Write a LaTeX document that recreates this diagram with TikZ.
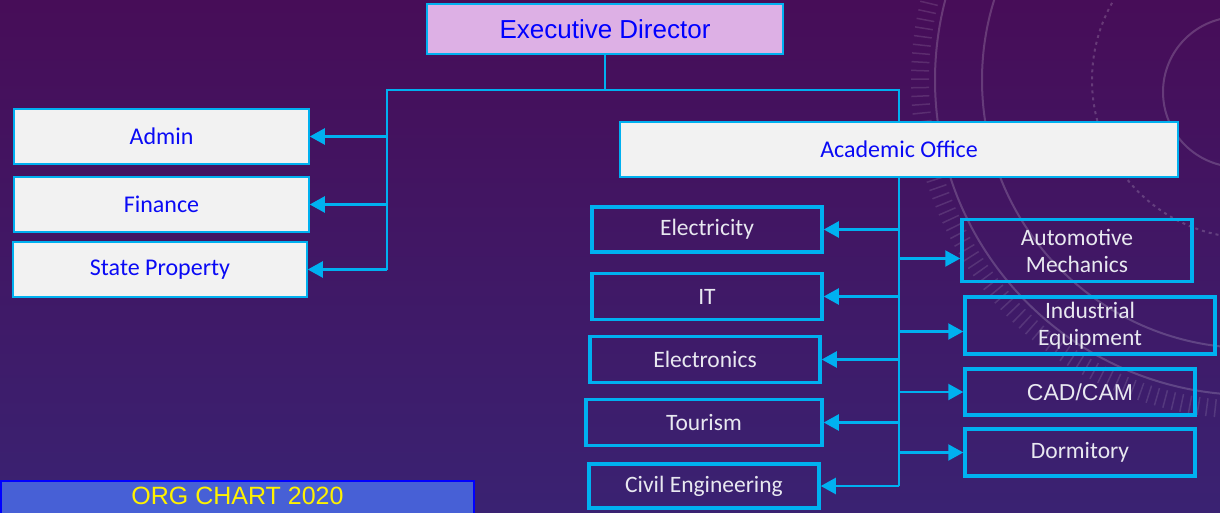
\documentclass[tikz,border=0pt]{standalone}
\usepackage{fontspec}
\setmainfont{Carlito}
\newfontfamily\arialfont{Liberation Sans}
\usetikzlibrary{arrows.meta}
\definecolor{lineCyan}{HTML}{00B0F0}
\definecolor{boxGray}{HTML}{F2F2F2}
\definecolor{textBlue}{HTML}{0A0AF5}
\definecolor{textWhite}{HTML}{E8E8F0}
\definecolor{lavender}{HTML}{DDB0E5}
\definecolor{orgBlue}{HTML}{4760D6}
\definecolor{bgTop}{HTML}{470D58}
\definecolor{bgBottom}{HTML}{3A2272}

\begin{document}
\begin{tikzpicture}[x=1pt, y=-1pt,
  every node/.style = {shape=rectangle, align=center, inner sep=0pt},
  >={Triangle[length=15pt,width=16pt]}]
    \tikzstyle{light}=[draw=lineCyan, line width=1.5pt, fill=boxGray,
      text=textBlue, font=\fontsize{24}{28}\selectfont]
    \tikzstyle{dark}=[draw=lineCyan, line width=3.5pt, text=textWhite,
      font=\fontsize{23.5}{27}\selectfont]
    \tikzstyle{link}=[draw=lineCyan, line width=2.2pt]
    \tikzstyle{deco}=[draw=white, opacity=.18, line width=2pt]
  \useasboundingbox (0,0) rectangle (1220,512);
  \clip (0,0) rectangle (1220,512);
  \shade[top color=bgTop, bottom color=bgBottom] (0,0) rectangle (1220,512);
  % background dial
  \draw[deco] (1238,92) circle (75);
  \draw[deco, dashed, dash pattern=on 3pt off 4pt] (1250,80) circle (158);
  \draw[deco] (1250,80) circle (268);
  \draw[deco] (1250,80) circle (315);
  \draw[deco, opacity=.12, line width=18pt, dash pattern=on 1.5pt off 7pt] (1250,80) circle (330);

  % top
  \node[light, fill=lavender, text=blue, font=\arialfont\fontsize{26}{30}\selectfont,
    minimum width=356pt, minimum height=50pt] (ed) at (605,29) {Executive Director};
  \coordinate (busL) at (387,90);
  \coordinate (busR) at (899,90);

  % left side
  \node[light, minimum width=295pt, minimum height=55pt] (adm) at (161.5,136.5) {Admin};
  \node[light, minimum width=295pt, minimum height=55pt] (fin) at (161.5,204.5) {Finance};
  \node[light, minimum width=294pt, minimum height=55pt] (sta) at (160,269.5) {State Property};

  % academic office
  \node[light, line width=2.5pt, minimum width=558pt, minimum height=55pt] (ao) at (899,149.5) {Academic Office};

  \node[dark, minimum width=230pt, minimum height=45pt] (ele) at (707,229.5) {Electricity};
  \node[dark, minimum width=230pt, minimum height=46pt] (it) at (707,296.5) {IT};
  \node[dark, minimum width=230pt, minimum height=46pt] (elc) at (705,359.5) {Electronics};
  \node[dark, minimum width=236pt, minimum height=46pt] (tou) at (704,422.5) {Tourism};
  \node[dark, minimum width=230pt, minimum height=44pt] (civ) at (704,486) {Civil Engineering};

  \node[dark, minimum width=230pt, minimum height=62pt] (aut) at (1077,250.5) {Automotive\\Mechanics};
  \node[dark, minimum width=250pt, minimum height=57pt] (ind) at (1090,325.5) {Industrial\\Equipment};
  \node[dark, minimum width=230pt, minimum height=46pt, font=\arialfont\fontsize{23}{27}\selectfont]
    (cad) at (1080,392) {CAD/CAM};
  \node[dark, minimum width=230pt, minimum height=47pt] (dor) at (1080,452.5) {Dormitory};

  % bottom label
  \node[draw=blue, line width=2pt, fill=orgBlue, text=yellow, anchor=north west,
    minimum width=473pt, inner ysep=6pt, text depth=24pt, font=\arialfont\fontsize{25}{30}\selectfont]
    (org) at (0,480) {ORG CHART 2020};

  % connectors
  \draw[link] (ed.south) -- (ed.south |- busL);
  \draw[link] (busL |- sta.east) -- (busL) -- (busR) -- (busR |- ao.north);
  \draw[link, ->] (busL |- adm.east) -- (adm.east);
  \draw[link, ->] (busL |- fin.east) -- (fin.east);
  \draw[link, ->] (busL |- sta.east) -- (sta.east);

  \draw[link] (busR |- ao.south) -- (busR |- civ.east);
  \draw[link, ->] (busR |- ele.east) -- (ele.east);
  \draw[link, ->] (busR |- it.east) -- (it.east);
  \draw[link, ->] (busR |- elc.east) -- (elc.east);
  \draw[link, ->] (busR |- tou.east) -- (tou.east);
  \draw[link, ->] (busR |- civ.east) -- (civ.east);
  \draw[link, ->] ([yshift=-8pt]aut.west -| busR) -- ([yshift=-8pt]aut.west);
  \draw[link, ->] ([yshift=-6pt]ind.west -| busR) -- ([yshift=-6pt]ind.west);
  \draw[link, ->] (cad.west -| busR) -- (cad.west);
  \draw[link, ->] (dor.west -| busR) -- (dor.west);
\end{tikzpicture}
\end{document}
